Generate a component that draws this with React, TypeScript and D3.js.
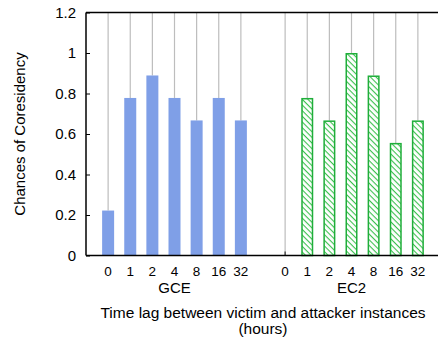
import { useEffect, useRef } from 'react';
import * as d3 from 'd3';

const lags = ['0', '1', '2', '4', '8', '16', '32'];
const gceValues = [0.222, 0.778, 0.889, 0.778, 0.667, 0.778, 0.667];
const ec2Values = [0, 0.778, 0.667, 1.0, 0.889, 0.556, 0.667];
const yTicks = [0, 0.2, 0.4, 0.6, 0.8, 1, 1.2];

const App = () => {
  const svgRef = useRef<SVGSVGElement>(null);

  useEffect(() => {
    const width = 438;
    const height = 339;
    const margin = { top: 12.5, right: -2, bottom: 83.5, left: 86 };
    const font = '"Liberation Sans", Arial, sans-serif';

    const svg = d3.select(svgRef.current)
      .attr('width', width)
      .attr('height', height)
      .style('display', 'block')
      .style('position', 'absolute')
      .style('left', '0px')
      .style('top', '0px')
      .style('background', '#fff')
      .style('font-family', font);

    svg.selectAll('*').remove();

    // hatch pattern for EC2 bars
    const defs = svg.append('defs');
    const pat = defs.append('pattern')
      .attr('id', 'hatch')
      .attr('patternUnits', 'userSpaceOnUse')
      .attr('width', 4)
      .attr('height', 4)
      .attr('patternTransform', 'rotate(45)');
    pat.append('rect').attr('width', 4).attr('height', 4).attr('fill', '#ffffff');
    pat.append('line')
      .attr('x1', 0).attr('y1', 0).attr('x2', 4).attr('y2', 0)
      .attr('stroke', '#3cc04f')
      .attr('stroke-width', 2.2);

    // one slot per bar, with an empty slot between the two groups
    const rows = [
      ...lags.map((l, i) => ({ key: 'g' + l, label: l, value: gceValues[i], group: 'GCE' })),
      { key: 'gap', label: '', value: null as number | null, group: '' },
      ...lags.map((l, i) => ({ key: 'e' + l, label: l, value: ec2Values[i], group: 'EC2' })),
    ];

    const x = d3.scalePoint<string>()
      .domain(rows.map(d => d.key))
      .range([margin.left, width - margin.right])
      .padding(1);

    const y = d3.scaleLinear()
      .domain([0, 1.2])
      .range([height - margin.bottom, margin.top]);

    const barW = 12;

    // gray guide lines from top down to bar tops
    svg.selectAll('.guide')
      .data(rows.filter(d => d.value !== null))
      .enter()
      .append('line')
      .attr('x1', d => x(d.key)!)
      .attr('x2', d => x(d.key)!)
      .attr('y1', y(1.2))
      .attr('y2', d => y(d.value as number))
      .attr('stroke', '#bdbdbd')
      .attr('stroke-width', 1.2);

    // GCE bars
    svg.selectAll('.gce')
      .data(rows.filter(d => d.group === 'GCE'))
      .enter()
      .append('rect')
      .attr('x', d => x(d.key)! - barW / 2)
      .attr('y', d => y(d.value as number))
      .attr('width', barW)
      .attr('height', d => y(0) - y(d.value as number))
      .attr('fill', '#7f9fe7');

    // EC2 bars
    svg.selectAll('.ec2')
      .data(rows.filter(d => d.group === 'EC2' && (d.value as number) > 0))
      .enter()
      .append('rect')
      .attr('x', d => x(d.key)! - barW / 2 + 0.75)
      .attr('y', d => y(d.value as number) + 0.75)
      .attr('width', barW - 1.5)
      .attr('height', d => y(0) - y(d.value as number) - 0.75)
      .attr('fill', 'url(#hatch)')
      .attr('stroke', '#1fae3a')
      .attr('stroke-width', 1.5);

    // small mark for the zero EC2 bar
    svg.selectAll('.zero')
      .data(rows.filter(d => d.group === 'EC2' && d.value === 0))
      .enter()
      .append('line')
      .attr('x1', d => x(d.key)!)
      .attr('x2', d => x(d.key)!)
      .attr('y1', y(0) - 4)
      .attr('y2', y(0))
      .attr('stroke', '#333')
      .attr('stroke-width', 1.2);

    // frame: left, top, bottom
    const frame = svg.append('g').attr('stroke', '#000').attr('stroke-width', 1.5);
    frame.append('line')
      .attr('x1', margin.left).attr('x2', margin.left)
      .attr('y1', y(1.2)).attr('y2', y(0));
    frame.append('line')
      .attr('x1', margin.left).attr('x2', width)
      .attr('y1', y(1.2)).attr('y2', y(1.2));
    frame.append('line')
      .attr('x1', margin.left).attr('x2', width)
      .attr('y1', y(0)).attr('y2', y(0));

    // Y axis
    const yAxis = svg.append('g')
      .attr('transform', `translate(${margin.left}, 0)`)
      .call(d3.axisRight(y).tickValues(yTicks).tickFormat(d => String(d)).tickSize(4));
    yAxis.select('.domain').remove();
    yAxis.selectAll('line').attr('stroke', '#000').attr('stroke-width', 1);
    yAxis.selectAll('text')
      .attr('x', -10)
      .attr('text-anchor', 'end')
      .attr('fill', '#000')
      .style('font-size', '15px')
      .style('font-family', font);

    // X tick labels
    svg.selectAll('.xlab')
      .data(rows.filter(d => d.value !== null))
      .enter()
      .append('text')
      .attr('x', d => x(d.key)!)
      .attr('y', 276)
      .attr('text-anchor', 'middle')
      .style('font-size', '13.5px')
      .text(d => d.label);

    // group labels
    const groupLabels = ['GCE', 'EC2'];
    groupLabels.forEach(g => {
      const keys = rows.filter(d => d.group === g).map(d => x(d.key)!);
      svg.append('text')
        .attr('x', (keys[0] + keys[keys.length - 1]) / 2)
        .attr('y', 293)
        .attr('text-anchor', 'middle')
        .style('font-size', '15px')
        .text(g);
    });

    // X axis title
    svg.append('text')
      .attr('x', 263)
      .attr('y', 318)
      .attr('text-anchor', 'middle')
      .style('font-size', '15.5px')
      .text('Time lag between victim and attacker instances');
    svg.append('text')
      .attr('x', 263)
      .attr('y', 334)
      .attr('text-anchor', 'middle')
      .style('font-size', '15.5px')
      .text('(hours)');

    // Y axis title
    svg.append('text')
      .attr('transform', `translate(25, ${(y(0) + y(1.2)) / 2}) rotate(-90)`)
      .attr('text-anchor', 'middle')
      .style('font-size', '15px')
      .text('Chances of Coresidency');
  }, []);

  return <svg ref={svgRef}></svg>;
};

export default App;
